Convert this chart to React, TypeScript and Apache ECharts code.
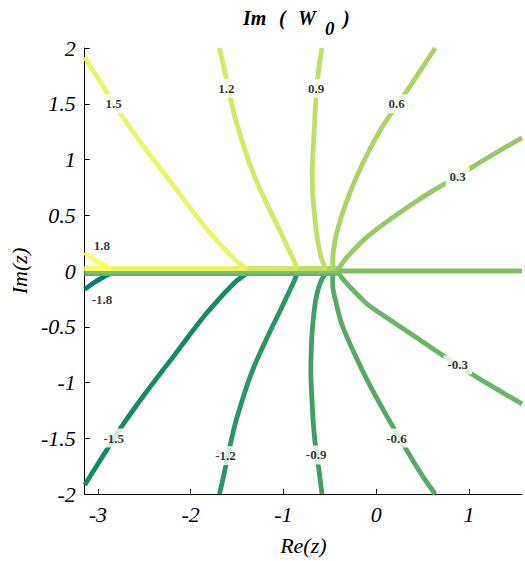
import React, { useEffect, useRef } from "react";
import * as echarts from "echarts";

// axis ranges and ticks
const X_RANGE = [-3.1416, 1.5708];
const Y_RANGE = [-2, 2];
const X_TICKS = [-3, -2, -1, 0, 1];
const Y_TICKS = [-2, -1.5, -1, -0.5, 0, 0.5, 1, 1.5, 2];

// contour levels and their colours (summer colormap)
const LEVELS = [-1.8, -1.5, -1.2, -0.9, -0.6, -0.3, 0, 0.3, 0.6, 0.9, 1.2, 1.5, 1.8];
const COLORS = [
  "#008066", "#158a66", "#2a9566", "#409f66", "#55aa66", "#6ab566", "#80bf66",
  "#95ca66", "#aad566", "#bfdf66", "#d4ea66", "#eaf466", "#fbfb66",
];

// contour lines: [Re(z), Im(z)]
const C_M18 = [[-3.1416, -0.165], [-3.05, -0.11], [-2.95, -0.06], [-2.86, -0.02]];
const C_M15 = [[-3.1416, -1.92], [-3.0, -1.73], [-2.87, -1.56], [-2.74, -1.39], [-2.5, -1.11], [-2.3, -0.89], [-2.17, -0.75], [-2.0, -0.56], [-1.82, -0.37], [-1.66, -0.22], [-1.52, -0.1], [-1.41, -0.03], [-1.39, -0.02]];
const C_M12 = [[-1.69, -2.0], [-1.64, -1.82], [-1.585, -1.6], [-1.52, -1.37], [-1.44, -1.15], [-1.36, -0.95], [-1.25, -0.73], [-1.12, -0.5], [-1.02, -0.33], [-0.93, -0.17], [-0.88, -0.08], [-0.85, -0.02]];
const C_M09 = [[-0.585, -2.0], [-0.615, -1.8], [-0.65, -1.6], [-0.672, -1.43], [-0.69, -1.2], [-0.705, -0.9], [-0.7, -0.7], [-0.69, -0.54], [-0.665, -0.33], [-0.64, -0.21], [-0.6, -0.1], [-0.56, -0.04], [-0.54, -0.02]];
const C_M06 = [[0.635, -2.0], [0.5, -1.84], [0.33, -1.61], [0.12, -1.31], [-0.06, -1.04], [-0.23, -0.75], [-0.37, -0.48], [-0.44, -0.26], [-0.47, -0.12], [-0.47, -0.05], [-0.46, -0.02]];
const C_M03 = [[-0.4, -0.02], [-0.38, -0.05], [-0.33, -0.1], [-0.27, -0.155], [-0.1, -0.295], [0.15, -0.44], [0.42, -0.59], [0.65, -0.72], [0.88, -0.845], [1.05, -0.935], [1.3, -1.06], [1.5708, -1.192]];
const C_00 = [[-3.1416, 0], [1.5708, 0]];
const C_P03 = [[-0.4, 0.02], [-0.38, 0.05], [-0.33, 0.11], [-0.27, 0.165], [-0.12, 0.29], [0.11, 0.44], [0.37, 0.59], [0.62, 0.725], [0.88, 0.845], [1.06, 0.945], [1.3, 1.065], [1.5708, 1.195]];
const C_P06 = [[0.635, 2.0], [0.47, 1.79], [0.27, 1.54], [0.07, 1.3], [-0.125, 1.0], [-0.27, 0.73], [-0.375, 0.49], [-0.44, 0.29], [-0.465, 0.15], [-0.47, 0.07], [-0.46, 0.02]];
const C_P09 = [[-0.585, 2.0], [-0.615, 1.84], [-0.64, 1.66], [-0.66, 1.4], [-0.675, 1.15], [-0.69, 0.88], [-0.685, 0.7], [-0.67, 0.55], [-0.645, 0.35], [-0.615, 0.2], [-0.585, 0.1], [-0.555, 0.04], [-0.535, 0.02]];
const C_P12 = [[-1.69, 2.0], [-1.64, 1.82], [-1.585, 1.6], [-1.52, 1.37], [-1.44, 1.15], [-1.36, 0.95], [-1.25, 0.73], [-1.12, 0.5], [-1.02, 0.33], [-0.93, 0.17], [-0.88, 0.08], [-0.85, 0.02]];
const C_P15 = [[-3.1416, 1.92], [-3.0, 1.73], [-2.87, 1.56], [-2.74, 1.39], [-2.5, 1.11], [-2.3, 0.89], [-2.17, 0.75], [-2.0, 0.56], [-1.82, 0.37], [-1.66, 0.22], [-1.52, 0.1], [-1.41, 0.03], [-1.39, 0.02]];
const C_P18 = [[-3.1416, 0.165], [-3.05, 0.11], [-2.95, 0.06], [-2.86, 0.02]];
const CURVES = [C_M18, C_M15, C_M12, C_M09, C_M06, C_M03, C_00, C_P03, C_P06, C_P09, C_P12, C_P15, C_P18];

// where each level's run along the branch cut (y = 0) ends
const CUT_ENDS = [-2.86, -1.39, -0.85, -0.54, -0.46, -0.4, 1.5708, -0.4, -0.46, -0.535, -0.85, -1.39, -2.86];
const CUT_Y = [-0.022, -0.022, -0.022, -0.022, -0.022, -0.022, 0, 0.022, 0.022, 0.022, 0.022, 0.022, 0.022];

// inline contour labels
const LABEL_X = [-2.956, -2.829, -1.624, -0.648, 0.219, 0.878, 0.878, 0.219, -0.648, -1.616, -2.829, -2.956];
const LABEL_Y = [-0.253, -1.498, -1.656, -1.65, -1.498, -0.842, 0.845, 1.5, 1.638, 1.638, 1.5, 0.233];
const LABEL_TEXT = ["-1.8", "-1.5", "-1.2", "-0.9", "-0.6", "-0.3", "0.3", "0.6", "0.9", "1.2", "1.5", "1.8"];

const SERIF = "Liberation Serif";

export default function App() {
  const ref = useRef<HTMLDivElement>(null);
  useEffect(() => {
    if (!ref.current) return;
    const chart = echarts.init(ref.current, undefined, { renderer: "svg" });
    const series: any[] = [];
    LEVELS.forEach((lv, i) => {
      const common = {
        type: "line",
        showSymbol: false,
        symbol: "none",
        silent: true,
        clip: true,
        lineStyle: { color: COLORS[i], width: 4.8, cap: "butt" },
      };
      if (lv !== 0) {
        series.push({
          ...common,
          name: "cut" + lv,
          data: [[X_RANGE[0], CUT_Y[i]], [CUT_ENDS[i], CUT_Y[i]]],
        });
      }
      series.push({
        ...common,
        name: "lv" + lv,
        smooth: lv === 0 ? false : 0.3,
        data: CURVES[i],
      });
    });
    series.push({
      type: "scatter",
      symbolSize: 0,
      silent: true,
      z: 10,
      data: LABEL_TEXT.map((t, i) => [LABEL_X[i], LABEL_Y[i], t]),
      label: {
        show: true,
        position: "inside",
        formatter: (p: any) => p.value[2],
        fontFamily: SERIF,
        fontWeight: "bold",
        fontSize: 13,
        color: "#000",
        backgroundColor: "#fff",
        padding: [3, 4],
      },
    });

    const axisText = { fontFamily: SERIF, fontStyle: "italic", fontSize: 22, color: "#000" };
    chart.setOption({
      animation: false,
      backgroundColor: "#fff",
      grid: { left: 76, right: 3, top: 48, bottom: 67, containLabel: false },
      xAxis: {
        type: "value",
        min: X_RANGE[0],
        max: X_RANGE[1],
        name: "Re(z)",
        nameLocation: "middle",
        nameGap: 40,
        nameTextStyle: { ...axisText },
        axisLine: { show: true, onZero: false, lineStyle: { color: "#000", width: 1 } },
        axisTick: { show: true, inside: true, length: 5, customValues: X_TICKS, lineStyle: { color: "#000" } },
        axisLabel: { customValues: X_TICKS, formatter: (v: number) => String(v), margin: 9, ...axisText },
        splitLine: { show: false },
      },
      yAxis: {
        type: "value",
        min: Y_RANGE[0],
        max: Y_RANGE[1],
        name: "Im(z)",
        nameLocation: "middle",
        nameRotate: 90,
        nameGap: 44,
        nameTextStyle: { ...axisText },
        axisLine: { show: true, onZero: false, lineStyle: { color: "#000", width: 1 } },
        axisTick: { show: true, inside: true, length: 5, customValues: Y_TICKS, lineStyle: { color: "#000" } },
        axisLabel: { customValues: Y_TICKS, formatter: (v: number) => String(v), margin: 9, ...axisText },
        splitLine: { show: false },
      },
      graphic: [
        { type: "text", left: 243, top: 8, style: { text: "Im", fontFamily: SERIF, fontStyle: "italic", fontWeight: "bold", fontSize: 20, fill: "#000" } },
        { type: "text", left: 279, top: 8, style: { text: "(", fontFamily: SERIF, fontStyle: "italic", fontWeight: "bold", fontSize: 20, fill: "#000" } },
        { type: "text", left: 298, top: 8, style: { text: "W", fontFamily: SERIF, fontStyle: "italic", fontWeight: "bold", fontSize: 20, fill: "#000" } },
        { type: "text", left: 325, top: 19, style: { text: "0", fontFamily: SERIF, fontStyle: "italic", fontWeight: "bold", fontSize: 19, fill: "#000" } },
        { type: "text", left: 343, top: 8, style: { text: ")", fontFamily: SERIF, fontStyle: "italic", fontWeight: "bold", fontSize: 20, fill: "#000" } },
      ],
      series,
    });
    return () => chart.dispose();
  }, []);
  return (
    <div
      ref={ref}
      style={{ position: "fixed", left: 0, top: 0, width: 525, height: 561, background: "#fff" }}
    />
  );
}
